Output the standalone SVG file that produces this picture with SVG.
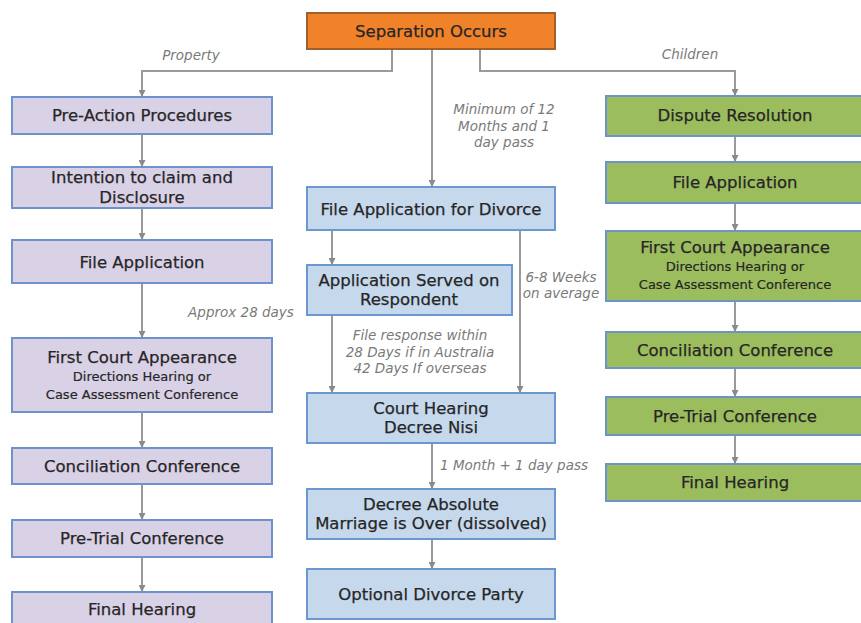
<svg xmlns="http://www.w3.org/2000/svg" width="861" height="623" viewBox="0 0 861 623">
<defs>
<marker id="ah" viewBox="0 0 10 10" refX="10" refY="5" markerWidth="7" markerHeight="7" markerUnits="userSpaceOnUse" orient="auto">
<path d="M0,0 L10,5 L0,10 z" fill="#8a8a8a"/>
</marker>
<style>
.conn{fill:none;stroke:#9a9a9a;stroke-width:2;marker-end:url(#ah)}
.p{fill:#d9d1e6;stroke:#6e93cc;stroke-width:2}
.b{fill:#c5d8ec;stroke:#6b98cf;stroke-width:2}
.g{fill:#9cbd5e;stroke:#6d94c8;stroke-width:2}
.o{fill:#f0822a;stroke:#a0602e;stroke-width:2}
.t{font-family:"DejaVu Sans",Verdana,sans-serif;font-size:16.5px;fill:#262626;stroke:#262626;stroke-width:0.25;text-anchor:middle}
.s{font-family:"DejaVu Sans",Verdana,sans-serif;font-size:13px;fill:#262626;stroke:#262626;stroke-width:0.2;text-anchor:middle}
.l{font-family:"DejaVu Sans",Verdana,sans-serif;font-size:13.5px;font-style:italic;fill:#7a7a7a;text-anchor:middle}
</style>
</defs>
<rect width="861" height="623" fill="#ffffff"/>
<g id="connectors">
<path class="conn" d="M392,49 V71 H142 V97"/>
<path class="conn" d="M480,49 V71 H735 V96"/>
<path class="conn" d="M432,49 V187"/>
<path class="conn" d="M142,134 V167"/>
<path class="conn" d="M142,208 V240"/>
<path class="conn" d="M142,283 V338"/>
<path class="conn" d="M142,412 V448"/>
<path class="conn" d="M142,484 V520"/>
<path class="conn" d="M142,557 V592"/>
<path class="conn" d="M332,230 V265"/>
<path class="conn" d="M332,315 V393"/>
<path class="conn" d="M520,230 V393"/>
<path class="conn" d="M432,443 V489"/>
<path class="conn" d="M432,539 V569"/>
<path class="conn" d="M735,136 V162"/>
<path class="conn" d="M735,203 V231"/>
<path class="conn" d="M735,301 V332"/>
<path class="conn" d="M735,368 V397"/>
<path class="conn" d="M735,435 V464"/>
<text class="l" x="191" y="60">Property</text>
<text class="l" x="690" y="59">Children</text>
<text class="l" x="504" y="114">Minimum of 12</text>
<text class="l" x="504" y="131">Months and 1</text>
<text class="l" x="504" y="147">day pass</text>
<text class="l" x="241" y="317">Approx 28 days</text>
<text class="l" x="561" y="282">6-8 Weeks</text>
<text class="l" x="561" y="298">on average</text>
<text class="l" x="420" y="340">File response within</text>
<text class="l" x="420" y="357">28 Days if in Australia</text>
<text class="l" x="420" y="373">42 Days If overseas</text>
<text class="l" x="514" y="470">1 Month + 1 day pass</text>
</g>
<g id="separation">
<rect class="o" x="307" y="13" width="248" height="36"/>
<text class="t" x="431" y="37">Separation Occurs</text>
</g>
<g id="p1"><rect class="p" x="12" y="97" width="260" height="37"/><text class="t" x="142" y="121">Pre-Action Procedures</text></g>
<g id="p2"><rect class="p" x="12" y="167" width="260" height="41"/><text class="t" x="142" y="183">Intention to claim and</text><text class="t" x="142" y="203">Disclosure</text></g>
<g id="p3"><rect class="p" x="12" y="240" width="260" height="43"/><text class="t" x="142" y="268">File Application</text></g>
<g id="p4"><rect class="p" x="12" y="338" width="260" height="74"/><text class="t" x="142" y="363">First Court Appearance</text><text class="s" x="142" y="381">Directions Hearing or</text><text class="s" x="142" y="399">Case Assessment Conference</text></g>
<g id="p5"><rect class="p" x="12" y="448" width="260" height="36"/><text class="t" x="142" y="472">Conciliation Conference</text></g>
<g id="p6"><rect class="p" x="12" y="520" width="260" height="37"/><text class="t" x="142" y="544">Pre-Trial Conference</text></g>
<g id="p7"><rect class="p" x="12" y="592" width="260" height="40"/><text class="t" x="142" y="615">Final Hearing</text></g>
<g id="d1"><rect class="b" x="307" y="187" width="248" height="43"/><text class="t" x="431" y="215">File Application for Divorce</text></g>
<g id="d2"><rect class="b" x="307" y="265" width="205" height="50"/><text class="t" x="409" y="286">Application Served on</text><text class="t" x="409" y="305">Respondent</text></g>
<g id="d3"><rect class="b" x="307" y="393" width="248" height="50"/><text class="t" x="431" y="414">Court Hearing</text><text class="t" x="431" y="433">Decree Nisi</text></g>
<g id="d4"><rect class="b" x="307" y="489" width="248" height="50"/><text class="t" x="431" y="510">Decree Absolute</text><text class="t" x="431" y="529">Marriage is Over (dissolved)</text></g>
<g id="d5"><rect class="b" x="307" y="569" width="248" height="50"/><text class="t" x="431" y="600">Optional Divorce Party</text></g>
<g id="c1"><rect class="g" x="606" y="96" width="258" height="40"/><text class="t" x="735" y="121">Dispute Resolution</text></g>
<g id="c2"><rect class="g" x="606" y="162" width="258" height="41"/><text class="t" x="735" y="188">File Application</text></g>
<g id="c3"><rect class="g" x="606" y="231" width="258" height="70"/><text class="t" x="735" y="253">First Court Appearance</text><text class="s" x="735" y="271">Directions Hearing or</text><text class="s" x="735" y="289">Case Assessment Conference</text></g>
<g id="c4"><rect class="g" x="606" y="332" width="258" height="36"/><text class="t" x="735" y="356">Conciliation Conference</text></g>
<g id="c5"><rect class="g" x="606" y="397" width="258" height="38"/><text class="t" x="735" y="422">Pre-Trial Conference</text></g>
<g id="c6"><rect class="g" x="606" y="464" width="258" height="37"/><text class="t" x="735" y="488">Final Hearing</text></g>
</svg>
